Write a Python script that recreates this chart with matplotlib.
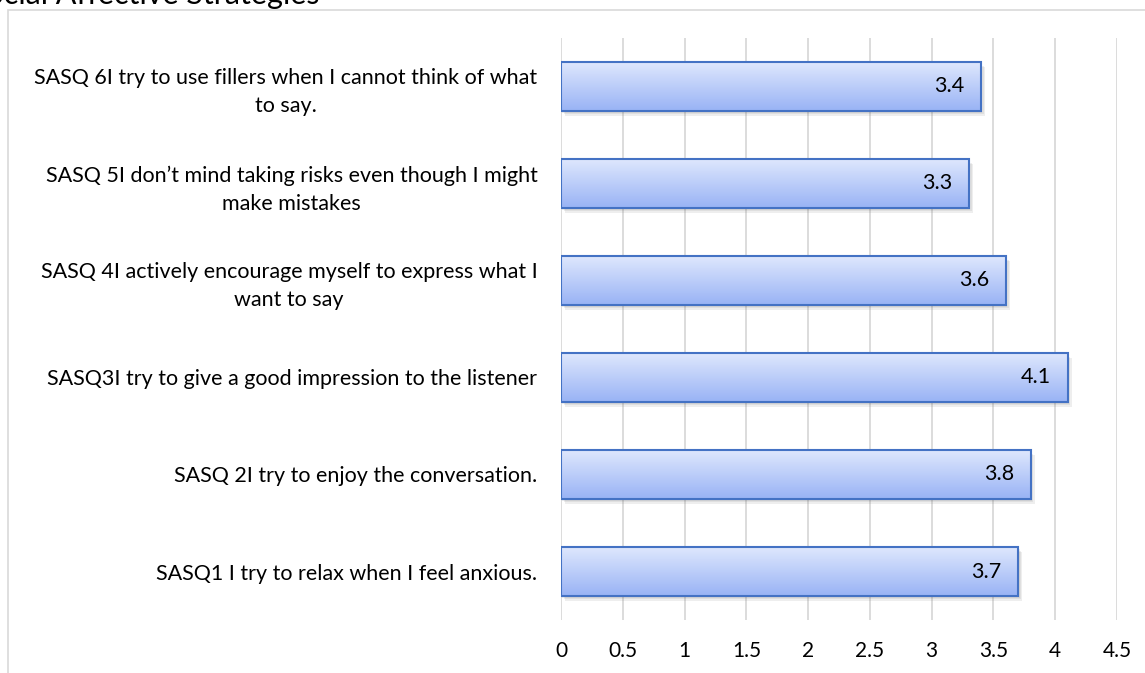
import numpy as np
import matplotlib
matplotlib.use("Agg")
import matplotlib.pyplot as plt
from matplotlib.patches import Rectangle
from matplotlib import patheffects as pe

plt.rcParams['font.family'] = ['Lato', 'DejaVu Sans']

# items listed bottom to top, as they appear on the chart
items = [
    "SASQ1 I try to relax when I feel anxious.",
    "SASQ 2I try to enjoy the conversation.",
    "SASQ3I try to give a good impression to the listener",
    "SASQ 4I actively encourage myself to express what I\nwant to say",
    "SASQ 5I don\u2019t mind taking risks even though I might\nmake mistakes",
    "SASQ 6I try to use fillers when I cannot think of what\nto say.",
]
means = [3.7, 3.8, 4.1, 3.6, 3.3, 3.4]
xticks = [0, 0.5, 1, 1.5, 2, 2.5, 3, 3.5, 4, 4.5]

W, H = 1145, 673
fig = plt.figure(figsize=(W / 100, H / 100), dpi=100)
ax = fig.add_axes([561 / W, 1 - 620 / H, 556 / W, 582 / H])

# outer chart frame
fig.patches.append(Rectangle((8 / W, -0.1), 1.2, 1.1 - 10 / H, transform=fig.transFigure,
                             fill=False, edgecolor='#d9d9d9', linewidth=1.2))
fig.text(-30 / W, 1 - 4 / H, "Social Affective Strategies", fontsize=22,
         ha='left', va='baseline', color='#000000')

grad = np.linspace(0, 1, 64).reshape(-1, 1)
c_bottom = np.array([0x99, 0xb3, 0xf5]) / 255
c_top = np.array([0xde, 0xe7, 0xfd]) / 255
grad_rgb = c_bottom + grad[:, :, None] * (c_top - c_bottom)

bar_h = 0.5
for i, v in enumerate(means):
    y0 = i - bar_h / 2
    # soft drop shadow built from a few faint offset copies
    for k, a in enumerate([0.10, 0.10, 0.10]):
        shadow = Rectangle((0, y0), v, bar_h, facecolor='none', edgecolor='none', zorder=2,
                           path_effects=[pe.SimplePatchShadow(offset=(1 + k, -1.5 - k),
                                                              shadow_rgbFace='#606060', alpha=a)])
        ax.add_patch(shadow)
    body = Rectangle((0, y0), v, bar_h, facecolor='none', edgecolor='#4472c4',
                     linewidth=1.5, zorder=4)
    ax.add_patch(body)
    img = ax.imshow(grad_rgb, extent=(0, v, y0, y0 + bar_h), origin='lower',
                    aspect='auto', zorder=3, interpolation='bilinear')
    img.set_clip_path(body)
    ax.annotate(f"{v:g}", xy=(v, i), xytext=(-12, 0), textcoords='offset points',
                ha='right', va='center', fontsize=15.5, color='#000000', zorder=5)

ax.set_xlim(0, 4.5)
ax.set_ylim(-0.5, len(items) - 0.5)
ax.set_xticks(xticks)
ax.set_xticklabels([f"{t:g}" for t in xticks], fontsize=15)
ax.set_yticks(range(len(items)))
ax.set_yticklabels(items, fontsize=15.5, linespacing=1.5)
for lbl in ax.get_yticklabels():
    lbl.set_multialignment('center')
ax.tick_params(axis='x', length=0, pad=15)
ax.tick_params(axis='y', length=0, pad=17)
ax.grid(axis='x', color='#d9d9d9', linewidth=1.3, zorder=0)
ax.set_axisbelow(True)
for s in ax.spines.values():
    s.set_visible(False)

fig.savefig("out.png", dpi=100)
